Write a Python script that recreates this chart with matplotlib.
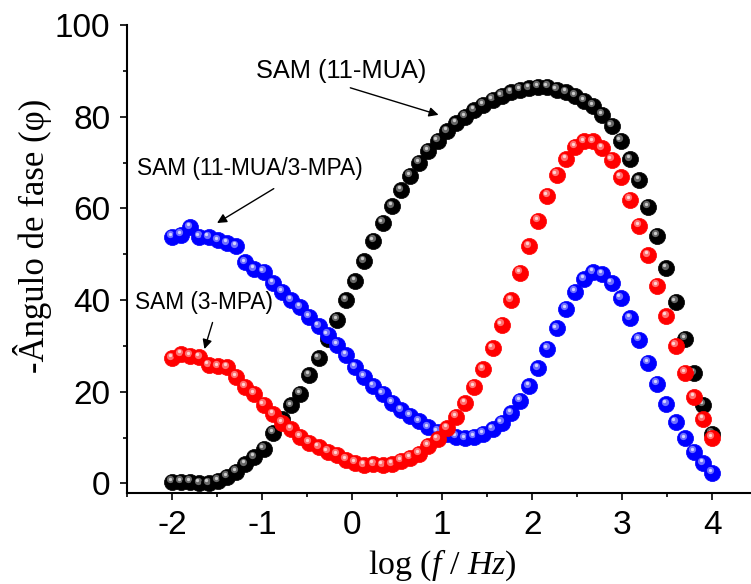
import numpy as np
import matplotlib
matplotlib.use("Agg")
import matplotlib.pyplot as plt
from matplotlib.ticker import MultipleLocator
from matplotlib.transforms import offset_copy

# ---- data ----
log_f = np.linspace(-2, 4, 60)  # frequency grid, log(f/Hz)

phase_11mua = [0.4, 0.3, 0.3, 0.0, 0.0, 0.6, 1.4, 2.5, 4.2, 5.7,
               7.5, 11.0, 14.0, 17.0, 19.5, 23.6, 27.3, 31.5, 35.7, 40.0,
               44.1, 48.5, 52.9, 56.9, 60.5, 64.0, 67.1, 69.9, 72.6, 74.8,
               76.8, 78.6, 80.0, 81.4, 82.6, 83.7, 84.6, 85.3, 85.9, 86.2,
               86.5, 86.5, 85.9, 85.3, 84.6, 83.5, 82.4, 80.4, 78.0, 74.8,
               70.7, 66.1, 60.4, 54.0, 46.9, 39.6, 31.5, 24.0, 17.1, 10.8]

phase_3mpa = [27.3, 28.2, 27.8, 27.5, 25.8, 25.5, 25.3, 23.3, 21.1, 19.6,
              17.1, 15.1, 13.2, 11.8, 10.2, 8.9, 7.9, 6.9, 6.2, 5.1,
              4.5, 4.0, 4.2, 4.0, 4.2, 4.9, 5.6, 6.5, 8.2, 9.6,
              12.0, 14.5, 17.5, 21.1, 24.9, 29.5, 34.6, 40.0, 45.9, 51.7,
              57.3, 62.7, 67.3, 70.7, 73.4, 74.6, 74.6, 73.1, 70.6, 66.8,
              61.9, 56.2, 49.8, 43.1, 36.5, 30.0, 24.1, 18.8, 14.0, 10.0]

phase_mix = [53.8, 54.2, 55.9, 53.8, 53.7, 53.0, 52.4, 51.7, 48.2, 46.7,
             46.2, 43.7, 41.8, 40.0, 38.4, 36.4, 34.3, 32.4, 30.2, 28.0,
             25.3, 23.3, 21.2, 19.5, 17.6, 16.0, 14.7, 13.5, 12.2, 11.3,
             10.8, 10.2, 9.8, 10.2, 10.8, 11.8, 13.2, 15.3, 18.0, 21.2,
             25.1, 29.4, 33.8, 38.1, 41.8, 44.5, 46.1, 45.6, 43.7, 40.4,
             36.0, 31.3, 26.3, 21.7, 17.3, 13.3, 9.8, 6.9, 4.4, 2.3]

x_ticks = [-2, -1, 0, 1, 2, 3, 4]
y_ticks = [0, 20, 40, 60, 80, 100]

labels = ["SAM (11-MUA)", "SAM (11-MUA/3-MPA)", "SAM (3-MPA)"]

# ---- figure ----
plt.rcParams['axes.unicode_minus'] = False
plt.rcParams['mathtext.fontset'] = 'custom'
plt.rcParams['mathtext.rm'] = 'Liberation Serif'
plt.rcParams['mathtext.it'] = 'Liberation Serif:italic'

fig = plt.figure(figsize=(7.51, 5.84), dpi=100)
ax = fig.add_axes([127/751, 91/584, 624/751, 468/584])

hi_tr = offset_copy(ax.transData, fig=fig, x=-1.4, y=1.8, units='points')
hi_tr2 = offset_copy(ax.transData, fig=fig, x=-1.6, y=2.1, units='points')


def balls(xs, ys, base, mid, light, z0):
    for i, (xi, yi) in enumerate(zip(xs, ys)):
        z = z0 + i * 0.01
        ax.plot([xi], [yi], 'o', ms=11.6, mfc=base, mec=base, mew=0.5,
                zorder=z, clip_on=False)
        ax.plot([xi], [yi], 'o', ms=5.2, mfc=mid, mec='none', alpha=0.8,
                zorder=z + 0.002, transform=hi_tr, clip_on=False)
        ax.plot([xi], [yi], 'o', ms=2.4, mfc=light, mec='none', alpha=0.9,
                zorder=z + 0.004, transform=hi_tr2, clip_on=False)


balls(log_f, phase_11mua, '#000000', '#808080', '#d8d8d8', 3)
balls(log_f, phase_mix, '#0000ff', '#8c8cff', '#e0e0ff', 4)
balls(log_f, phase_3mpa, '#ff0000', '#ff8c8c', '#ffe0e0', 5)

ax.set_xlim(-2.5, 4.43)
ax.set_ylim(-2.1, 100)
ax.set_xticks(x_ticks)
ax.set_yticks(y_ticks)
ax.xaxis.set_minor_locator(MultipleLocator(0.5))
ax.yaxis.set_minor_locator(MultipleLocator(10))

for s in ['top', 'right']:
    ax.spines[s].set_visible(False)
for s in ['left', 'bottom']:
    ax.spines[s].set_linewidth(1.5)

ax.tick_params(which='major', direction='out', length=5, width=1.2,
               labelsize=24, pad=7)
ax.tick_params(which='minor', direction='out', length=3, width=1.2)
for lab in ax.get_xticklabels() + ax.get_yticklabels():
    lab.set_family('Liberation Sans')

ax.set_xlabel(r'log ($\mathit{f}$ / $\mathit{Hz}$)', family='Liberation Serif',
              fontsize=24.5)
ax.set_ylabel('-Ângulo de fase (φ)', family='Liberation Serif', fontsize=25)
ax.xaxis.set_label_coords(0.506, -0.117)
ax.yaxis.set_label_coords(-0.12, 0.55)

arrow = dict(arrowstyle='-|>', color='black', lw=1.0, mutation_scale=14,
             shrinkA=0, shrinkB=0)

ax.text(-0.12, 89.9, labels[0], family='Liberation Sans', fontsize=18.3,
        ha='center', va='center', zorder=10)
ax.annotate('', xy=(0.96, 80.4), xytext=(-0.02, 86.3), arrowprops=arrow,
            zorder=10)

ax.text(-1.13, 68.8, labels[1], family='Liberation Sans', fontsize=16.3,
        ha='center', va='center', zorder=10)
ax.annotate('', xy=(-1.50, 56.8), xytext=(-0.87, 64.3), arrowprops=arrow,
            zorder=10)

ax.text(-1.65, 39.4, labels[2], family='Liberation Sans', fontsize=16.3,
        ha='center', va='center', zorder=10)
ax.annotate('', xy=(-1.64, 29.3), xytext=(-1.55, 35.1), arrowprops=arrow,
            zorder=10)

fig.savefig('out.png', dpi=100)
